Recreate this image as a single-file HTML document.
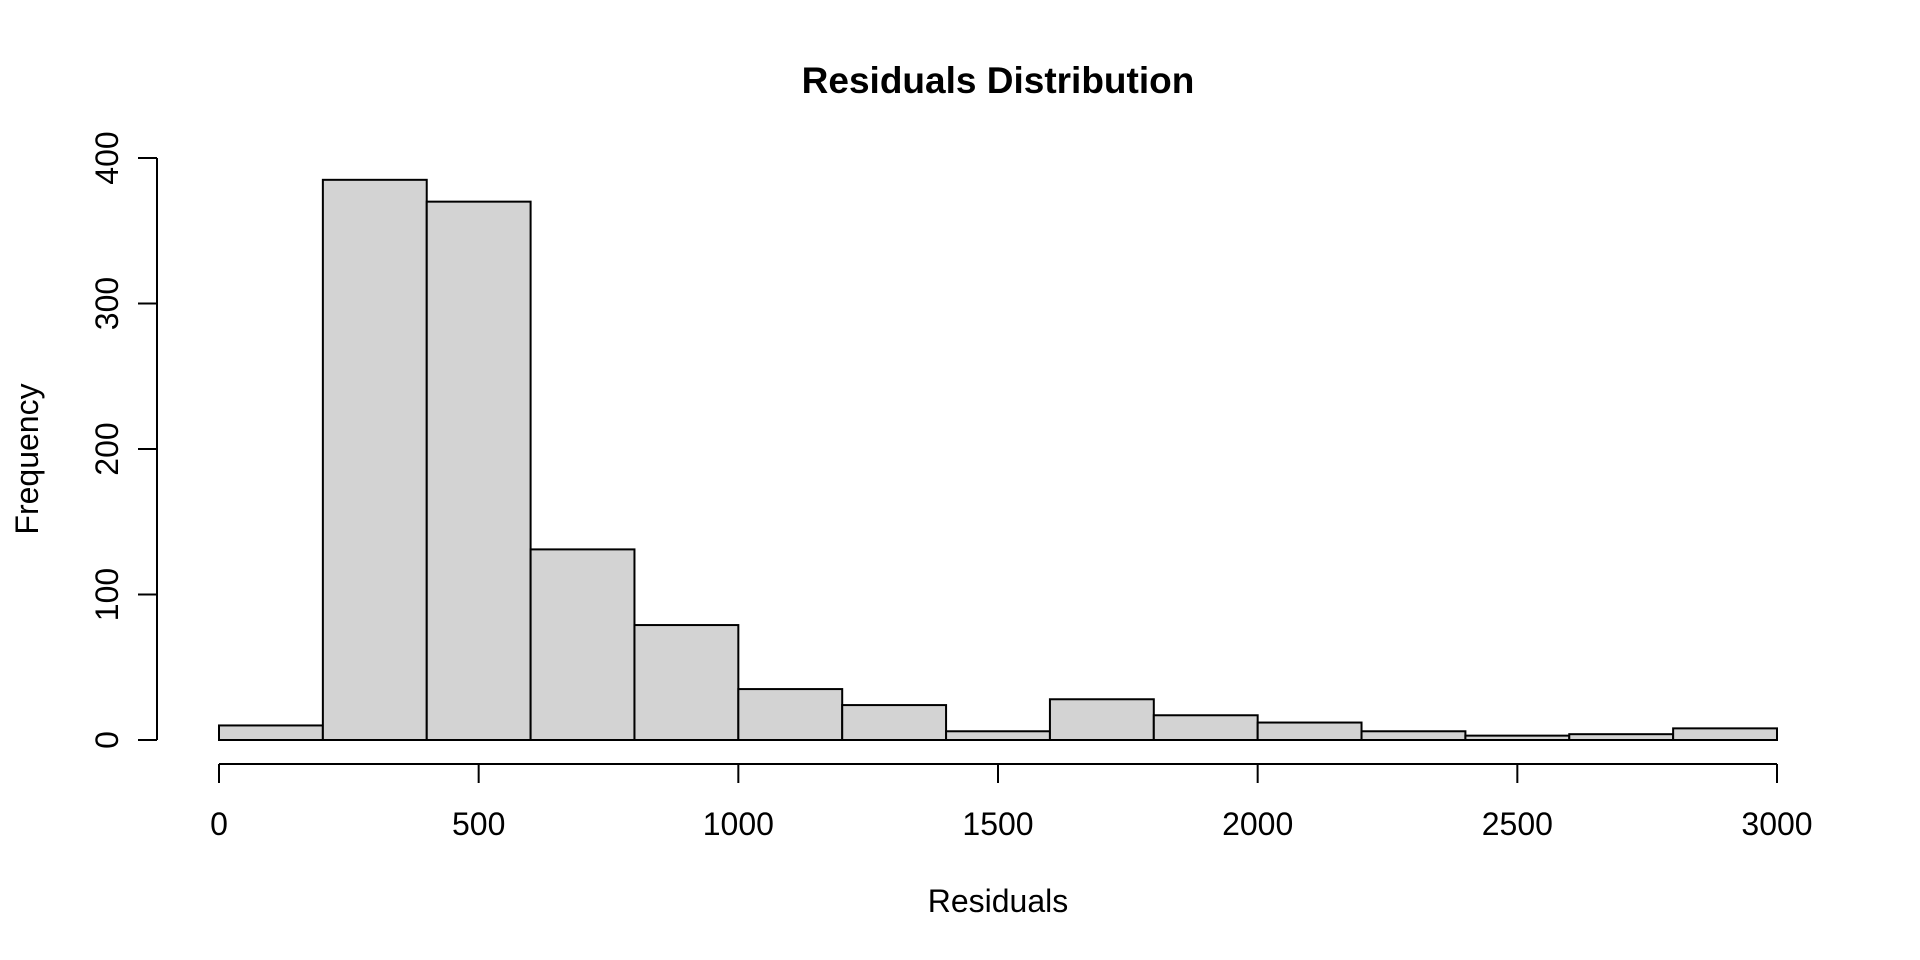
<!DOCTYPE html>
<html><head><meta charset="utf-8"><style>
body{margin:0;background:#fff}
svg{display:block;font-family:"Liberation Sans",Arial,sans-serif}
</style></head><body>
<svg id="chart" width="1920" height="960">
<text x="998" y="93" text-anchor="middle" font-size="37" font-weight="bold">Residuals Distribution</text>
<text x="998" y="912" text-anchor="middle" font-size="32">Residuals</text>
<text transform="translate(38,459) rotate(-90)" text-anchor="middle" font-size="32">Frequency</text>
<g id="bars"></g>
<g id="xaxis"></g>
<g id="yaxis"></g>
</svg>
<script>
const binStarts = [0,200,400,600,800,1000,1200,1400,1600,1800,2000,2200,2400,2600,2800];
const binWidth = 200;
const counts = [10,385,370,131,79,35,24,6,28,17,12,6,3,4,8];
const xTicks = [0,500,1000,1500,2000,2500,3000];
const yTicks = [0,100,200,300,400];

const NS = "http://www.w3.org/2000/svg";
const xs = v => 219 + (v/3000)*(1777-219);
const ys = v => 740 - (v/400)*(740-158);
function mk(tag, attrs, parent){const e=document.createElementNS(NS,tag);for(const k in attrs)e.setAttribute(k,attrs[k]);parent.appendChild(e);return e;}
const bars=document.getElementById('bars');
binStarts.forEach((b,i)=>{
  const x0=xs(b), x1=xs(b+binWidth), y=ys(counts[i]);
  const r=mk('rect',{x:x0,y:y,width:x1-x0,height:ys(0)-y,fill:'#d3d3d3',stroke:'#000','stroke-width':2},bars);
  
  
});
const xa=document.getElementById('xaxis');
mk('line',{x1:xs(xTicks[0]),x2:xs(xTicks[xTicks.length-1]),y1:764,y2:764,stroke:'#000','stroke-width':2},xa);
xTicks.forEach(t=>{
  mk('line',{x1:xs(t),x2:xs(t),y1:764,y2:783,stroke:'#000','stroke-width':2},xa);
  const tx=mk('text',{x:xs(t),y:835,'text-anchor':'middle','font-size':32},xa);
  tx.textContent=t;
  
  
});
const ya=document.getElementById('yaxis');
mk('line',{x1:157,x2:157,y1:ys(yTicks[0]),y2:ys(yTicks[yTicks.length-1]),stroke:'#000','stroke-width':2},ya);
yTicks.forEach(t=>{
  mk('line',{x1:138,x2:157,y1:ys(t),y2:ys(t),stroke:'#000','stroke-width':2},ya);
  const tx=mk('text',{transform:`translate(118,${ys(t)}) rotate(-90)`,'text-anchor':'middle','font-size':32},ya);
  tx.textContent=t;
  
  
});
</script>
</body></html>
